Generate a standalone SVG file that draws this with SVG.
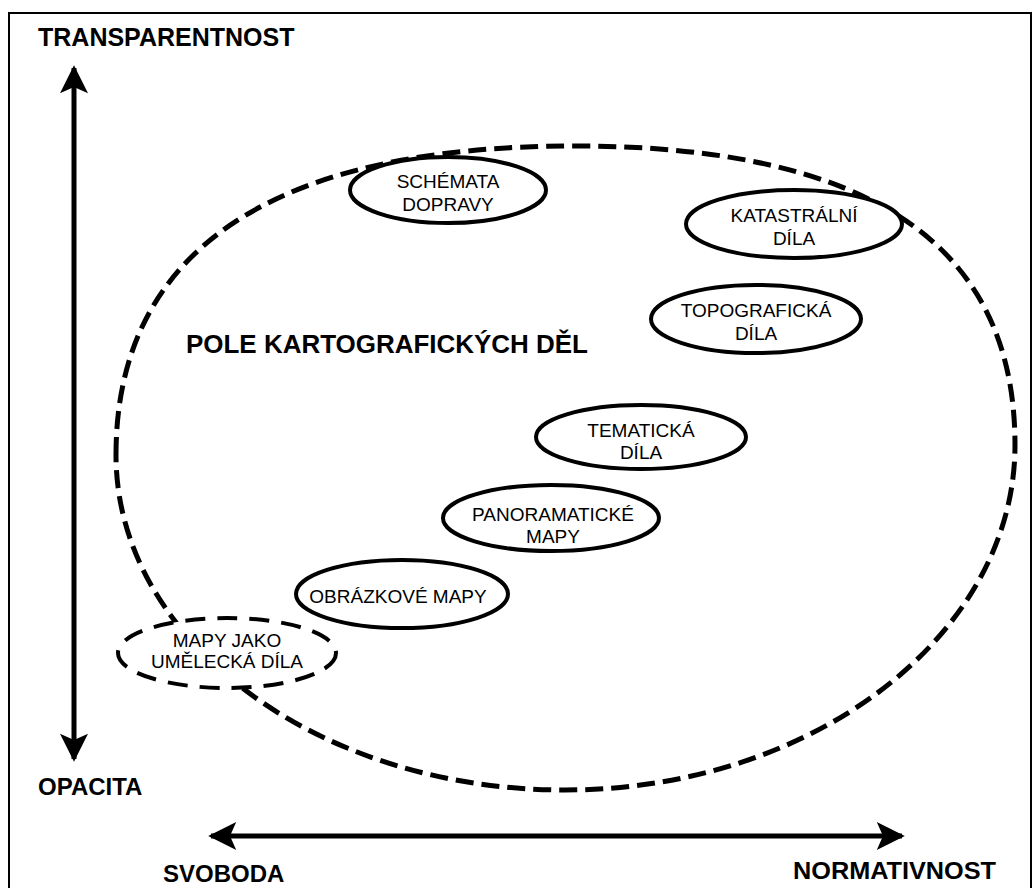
<svg xmlns="http://www.w3.org/2000/svg" width="1034" height="888" viewBox="0 0 1034 888">
<defs>
<style>
.lbl{font-family:"Liberation Sans",Arial,sans-serif;font-weight:bold;fill:#000;}
.nt{font-family:"Liberation Sans",Arial,sans-serif;font-size:19px;fill:#000;text-anchor:middle;}
.node{fill:#fff;stroke:#000;stroke-width:4;}
.dnode{fill:#fff;stroke:#000;stroke-width:4;stroke-dasharray:20 12;}
.axis{stroke:#000;stroke-width:5;fill:none;}
</style>
<marker id="ah" viewBox="0 0 10 10" refX="9" refY="5" markerWidth="6.4" markerHeight="5.6" orient="auto-start-reverse" markerUnits="strokeWidth">
<path d="M0,0 L10,5 L0,10 L2.2,5 Z" fill="#000"/>
</marker>
</defs>
<rect x="9" y="13" width="1022" height="890" fill="#fff" stroke="#000" stroke-width="2"/>
<g id="field">
<path d="M116,455 C116,251 272,146 575,146 C870,146 1015,245 1015,445 C1015,635 813,790 565,790 C317,790 116,640 116,455 Z" fill="none" stroke="#000" stroke-width="5" stroke-dasharray="18 8"/>
<text class="lbl" x="186" y="353" font-size="25" textLength="402" lengthAdjust="spacingAndGlyphs">POLE KARTOGRAFICKÝCH DĚL</text>
</g>
<g id="connectors">
<line class="axis" x1="74" y1="68" x2="74" y2="759" marker-start="url(#ah)" marker-end="url(#ah)"/>
<line class="axis" x1="211" y1="836" x2="902" y2="836" marker-start="url(#ah)" marker-end="url(#ah)"/>
</g>
<g id="axis-labels">
<text class="lbl" x="38" y="46" font-size="25">TRANSPARENTNOST</text>
<text class="lbl" x="38" y="795" font-size="24">OPACITA</text>
<text class="lbl" x="163" y="882" font-size="24">SVOBODA</text>
<text class="lbl" x="793" y="879" font-size="24" textLength="203" lengthAdjust="spacingAndGlyphs">NORMATIVNOST</text>
</g>
<g id="n-schemata">
<ellipse class="node" cx="448" cy="190" rx="98" ry="33"/>
<text class="nt" x="448" y="188">SCHÉMATA</text>
<text class="nt" x="448" y="211">DOPRAVY</text>
</g>
<g id="n-katastralni">
<ellipse class="node" cx="794" cy="224" rx="108" ry="34"/>
<text class="nt" x="794" y="222">KATASTRÁLNÍ</text>
<text class="nt" x="794" y="245">DÍLA</text>
</g>
<g id="n-topograficka">
<ellipse class="node" cx="756" cy="319" rx="105" ry="34"/>
<text class="nt" x="756" y="317">TOPOGRAFICKÁ</text>
<text class="nt" x="756" y="340">DÍLA</text>
</g>
<g id="n-tematicka">
<ellipse class="node" cx="641" cy="437" rx="105" ry="32"/>
<text class="nt" x="641" y="437">TEMATICKÁ</text>
<text class="nt" x="641" y="459">DÍLA</text>
</g>
<g id="n-panoramaticke">
<ellipse class="node" cx="551" cy="518" rx="108" ry="33"/>
<text class="nt" x="553" y="521">PANORAMATICKÉ</text>
<text class="nt" x="553" y="543">MAPY</text>
</g>
<g id="n-obrazkove">
<ellipse class="node" cx="402" cy="594" rx="106" ry="34"/>
<text class="nt" x="398" y="603">OBRÁZKOVÉ MAPY</text>
</g>
<g id="n-umelecka">
<ellipse class="dnode" cx="227" cy="653" rx="109" ry="35"/>
<text class="nt" x="227" y="647">MAPY JAKO</text>
<text class="nt" x="227" y="668">UMĚLECKÁ DÍLA</text>
</g>
</svg>
